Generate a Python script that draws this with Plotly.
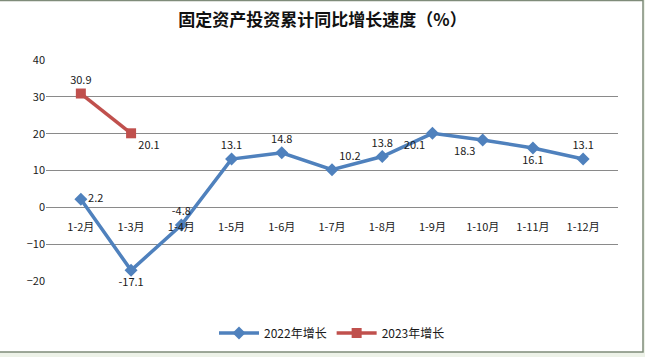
import plotly.graph_objects as go

categories = ["1-2月", "1-3月", "1-4月", "1-5月", "1-6月", "1-7月", "1-8月", "1-9月", "1-10月", "1-11月", "1-12月"]
values_2022 = [2.2, -17.1, -4.8, 13.1, 14.8, 10.2, 13.8, 20.1, 18.3, 16.1, 13.1]
values_2023 = [30.9, 20.1]
labels_2022 = ["2.2", "-17.1", "-4.8", "13.1", "14.8", "10.2", "13.8", "20.1", "18.3", "16.1", "13.1"]
labels_2023 = ["30.9", "20.1"]
title_text = "固定资产投资累计同比增长速度（%）"
name_2022 = "2022年增长"
name_2023 = "2023年增长"
y_ticks = [-20, -10, 0, 10, 20, 30, 40]

pos_2022 = ["middle right", "bottom center", "top center", "top center", "top center",
            "top right", "top center", "bottom left", "bottom left", "bottom center", "top center"]
pos_2023 = ["top center", "bottom right"]

BLUE = "#4F81BD"
RED = "#C0504D"
FONT = "Noto Sans CJK SC"

fig = go.Figure()
fig.add_trace(go.Scatter(
    x=categories, y=values_2022, name=name_2022, mode="lines+markers+text",
    line=dict(color=BLUE, width=3.5), marker=dict(symbol="diamond", size=10, color=BLUE),
    text=labels_2022, textposition=pos_2022,
    textfont=dict(size=11, color="#1a1a1a", family=FONT), cliponaxis=False,
))
fig.add_trace(go.Scatter(
    x=categories[:len(values_2023)], y=values_2023, name=name_2023, mode="lines+markers+text",
    line=dict(color=RED, width=3.5), marker=dict(symbol="square", size=10, color=RED),
    text=labels_2023, textposition=pos_2023,
    textfont=dict(size=11, color="#1a1a1a", family=FONT), cliponaxis=False,
))

fig.update_layout(
    width=645, height=357,
    margin=dict(l=46, r=27, t=60, b=76, autoexpand=False),
    paper_bgcolor="#EDF2E8", plot_bgcolor="rgba(0,0,0,0)",
    font=dict(family=FONT, size=11, color="#1a1a1a"),
    title=dict(text="<b>" + title_text + "</b>", x=0.5, xanchor="center", y=0.945, yanchor="middle",
               font=dict(size=17, color="#111111", family=FONT)),
    showlegend=True,
    legend=dict(orientation="h", x=0.5, xanchor="center", y=-0.235, yanchor="middle",
                font=dict(size=12, family=FONT), itemwidth=40, bgcolor="rgba(0,0,0,0)"),
    xaxis=dict(type="category", anchor="free", position=1/3, showline=False, showgrid=False,
               ticks="", tickfont=dict(size=11, family=FONT, color="#1a1a1a"), ticklabelstandoff=12),
    yaxis=dict(range=[-20, 40], tickvals=y_ticks, showgrid=True, gridcolor="#8A8A8A", gridwidth=1,
               zeroline=False, showline=False, ticks="", tickfont=dict(size=11, family=FONT, color="#1a1a1a")),
    shapes=[dict(type="rect", xref="paper", yref="paper",
                 x0=-0.1, x1=(643 - 46) / 572, y0=(281 - 352) / 221, y1=(281 - 0.5) / 221,
                 fillcolor="white", line=dict(color="#7F8C7A", width=1.5), layer="below")],
)

fig.write_html("out.html")
